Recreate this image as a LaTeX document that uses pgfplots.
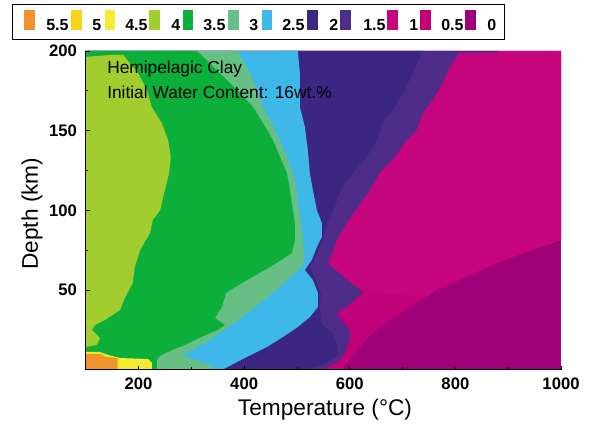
\documentclass[border=0pt]{standalone}
\usepackage{pgfplots}
\pgfplotsset{compat=1.18}
\usepackage{fontspec}
\setmainfont{Liberation Sans}
\definecolor{cOR}{HTML}{F0922E}
\definecolor{cGO}{HTML}{F6D417}
\definecolor{cYE}{HTML}{F3EC30}
\definecolor{cLI}{HTML}{A1CE2E}
\definecolor{cGR}{HTML}{0BAF3A}
\definecolor{cPG}{HTML}{66BF84}
\definecolor{cBL}{HTML}{3EB7E9}
\definecolor{cDP}{HTML}{3B2683}
\definecolor{cPU}{HTML}{4E2D8A}
\definecolor{cMA}{HTML}{C6047D}
\definecolor{cMB}{HTML}{C2007A}
\definecolor{cDM}{HTML}{9F0079}
\begin{document}
\begin{tikzpicture}
\path[use as bounding box] (0,0) rectangle (444.75pt,318.75pt);
\begin{axis}[
  at={(64.275pt,41.25pt)}, anchor=south west,
  scale only axis, width=356.5pt, height=239.25pt,
  xmin=100, xmax=1000, ymin=0, ymax=200,
  axis x line*=bottom, axis y line*=left,
  axis line style={line width=0.75pt},
  xtick={200,400,600,800,1000}, ytick={50,100,150,200},
  minor x tick num=1, minor y tick num=1,
  tick align=inside,
  major tick length=3pt, minor tick length=2pt,
  tick style={black, line width=0.6pt},
  axis on top,
  /pgf/number format/assume math mode=true,
  /pgf/number format/1000 sep={},
  ticklabel style={font=\fontsize{12.5}{14}\selectfont\bfseries},
  xticklabel style={yshift=-2pt},
  yticklabel style={xshift=-3pt},
  xlabel={Temperature (\textdegree C)},
  ylabel={Depth (km)},
  label style={font=\fontsize{17}{20}\selectfont},
  xlabel style={at={(axis description cs:0.5035,-0.1442)}, anchor=base},
  ylabel style={at={(axis description cs:-0.1004,0.49)}, anchor=base, rotate=0},
]
% 0 - 0.5
\addplot[fill=cDM, draw=none] coordinates {(100,0) (1000,0) (1000,200) (100,200)};
% >= 0.5
\addplot[fill=cMB, draw=none] coordinates {(100,0) (585,0) (600.1,6.3) (619,14.4) (643.6,23.2) (675.8,31.4) (713.6,39.5) (745.8,45.8) (764.7,50.2) (808.2,56.4) (878.2,67.1) (946.3,75.3) (1000,81.5) (1000,200) (100,200)};
% >= 1
\addplot[fill=cMA, draw=none] coordinates {(100,0) (543.3,0) (577.4,5.0) (592.5,11.3) (600.1,18.8) (600.1,25.1) (581.2,32.6) (575.5,35.7) (600.1,40.8) (624.7,48.9) (745.8,45.8) (764.7,50.2) (808.2,56.4) (878.2,67.1) (946.3,75.3) (1000,81.5) (1000,200) (100,200)};
% >= 1.5
\addplot[fill=cPU, draw=none] coordinates {(100,0) (543.3,0) (577.4,5.0) (592.5,11.3) (600.1,18.8) (600.1,25.1) (581.2,32.6) (575.5,35.7) (600.1,40.8) (624.7,48.9) (600.1,55.2) (575.5,62.1) (558.5,67.1) (566.0,72.1) (575.5,81.5) (594.4,92.2) (615.2,102.2) (637.9,112.9) (656.9,123.5) (685.2,133.6) (707.9,144.2) (726.9,150.5) (738.2,161.1) (757.1,169.3) (776.1,179.9) (789.3,190.0) (806,198.6) (880,199.1) (880,200) (100,200)};
% >= 2
\addplot[fill=cDP, draw=none] coordinates {(100,0) (515,0) (552.8,3.8) (577.4,9.4) (575.5,16.9) (567.9,23.2) (547.1,28.2) (543.3,37.6) (545.2,48.3) (535.8,56.4) (524.4,64.0) (535.8,70.9) (549.0,81.5) (558.5,92.2) (571.7,102.2) (583.1,112.9) (605.8,123.5) (632.3,133.6) (651.2,144.2) (662.5,154.9) (685.2,164.9) (704.2,175.6) (719.3,186.2) (738.2,200) (100,200)};
% >= 2.5
\addplot[fill=cBL, draw=none] coordinates {(100,0) (357.9,0) (405.2,8.2) (443.1,14.4) (473.3,20.7) (501.7,27.0) (524.4,33.2) (539.6,39.5) (539.6,48.3) (530.1,56.4) (515.0,62.7) (528.2,69.0) (537.7,77.1) (547.1,83.4) (547.1,92.2) (537.7,100.3) (530.1,112.9) (524.4,123.5) (520.6,137.9) (515.0,152.4) (505.5,164.9) (505.5,186.2) (501.7,200) (100,200)};
% >= 3
\addplot[fill=cPG, draw=none] coordinates {(100,0) (335.2,0) (339.0,2.5) (306.8,6.3) (282.2,9.4) (301.2,12.5) (325.8,16.9) (344.7,21.3) (373.1,27.6) (401.4,34.5) (429.8,42.0) (448.7,47.0) (467.7,52.1) (486.6,58.3) (509.3,64.6) (515.0,70.9) (511.2,81.5) (509.3,89.7) (503.6,100.3) (499.8,112.9) (492.3,123.5) (480.9,133.6) (467.7,144.2) (452.5,154.9) (435.5,164.9) (424.1,175.6) (410.9,186.2) (386.3,200) (100,200)};
% >= 3.5
\addplot[fill=cGR, draw=none] coordinates {(100,0) (234.9,0) (234.9,6.3) (240.6,8.8) (263.3,12.5) (287.9,15.7) (306.8,18.8) (335.2,23.2) (350.4,25.1) (363.6,28.2) (344.7,32.6) (357.9,39.5) (365.5,48.3) (395.8,54.6) (439.3,62.7) (467.7,68.4) (490.4,73.4) (496.0,81.5) (496.0,92.2) (492.3,100.3) (486.6,112.9) (480.9,123.5) (467.7,133.6) (454.4,144.2) (435.5,154.9) (416.6,164.9) (386.3,175.6) (354.1,186.2) (310.6,200) (100,200)};
% >= 4
\addplot[fill=cLI, draw=none] coordinates {(100,14.4) (121,15.7) (127,20.1) (112,25.1) (118,28.2) (137,31.4) (165,37.6) (174,45.1) (189,54.5) (193,64.6) (203,75.2) (222,85.9) (227,94.1) (241,100.3) (250,112.9) (258,123.5) (261,133.6) (256,144.2) (244,154.9) (225,164.9) (216,175.6) (199,186.2) (171,197.5) (146,197.5) (100,196.3)};
% >= 4.5
\addplot[fill=cYE, draw=none] coordinates {(100,0) (225.5,0) (225.5,4.4) (218,6.9) (164.9,7.5) (142.2,9.4) (127.1,11.3) (100,11.3)};
% >= 5
\addplot[fill=cGO, draw=none] coordinates {(100,0) (163,0) (163,7.5) (140.3,8.5) (129,10.5) (100,10.5)};
% >= 5.5
\addplot[fill=cOR, draw=none] coordinates {(100,0) (159.3,0) (159.3,7.5) (136.6,8.2) (127.1,10.0) (100,10.0)};
\end{axis}
\begin{scope}[x=0.75pt, y=-0.75pt, shift={(0pt,318.75pt)}]
\draw[line width=0.75pt] (12.5,4.5) rectangle (504.5,39.5);
\foreach \xa/\c/\lx/\lab in {24/cOR/46/5.5, 71/cGO/92/5, 104.5/cYE/125/4.5, 149/cLI/171/4, 182.5/cGR/203/3.5, 228/cPG/249/3, 261.5/cBL/282/2.5, 307/cDP/329/2, 340/cPU/363/1.5, 387/cMA/409/1, 420/cMB/441/0.5, 465/cDM/487/0} {
  \fill[\c] (\xa,10) rectangle ({\xa+10.5},30.5);
  \node[anchor=base west, inner sep=0pt, font=\fontsize{12}{14}\selectfont\bfseries] at (\lx,30.5) {\lab};
}
\node[anchor=base west, inner sep=0pt, font=\fontsize{13}{15}\selectfont] at (107,74) {Hemipelagic Clay};
\node[anchor=base west, inner sep=0pt, font=\fontsize{13}{15}\selectfont] at (107,99) {Initial Water Content: 16wt.\%};
\end{scope}
\end{tikzpicture}
\end{document}
